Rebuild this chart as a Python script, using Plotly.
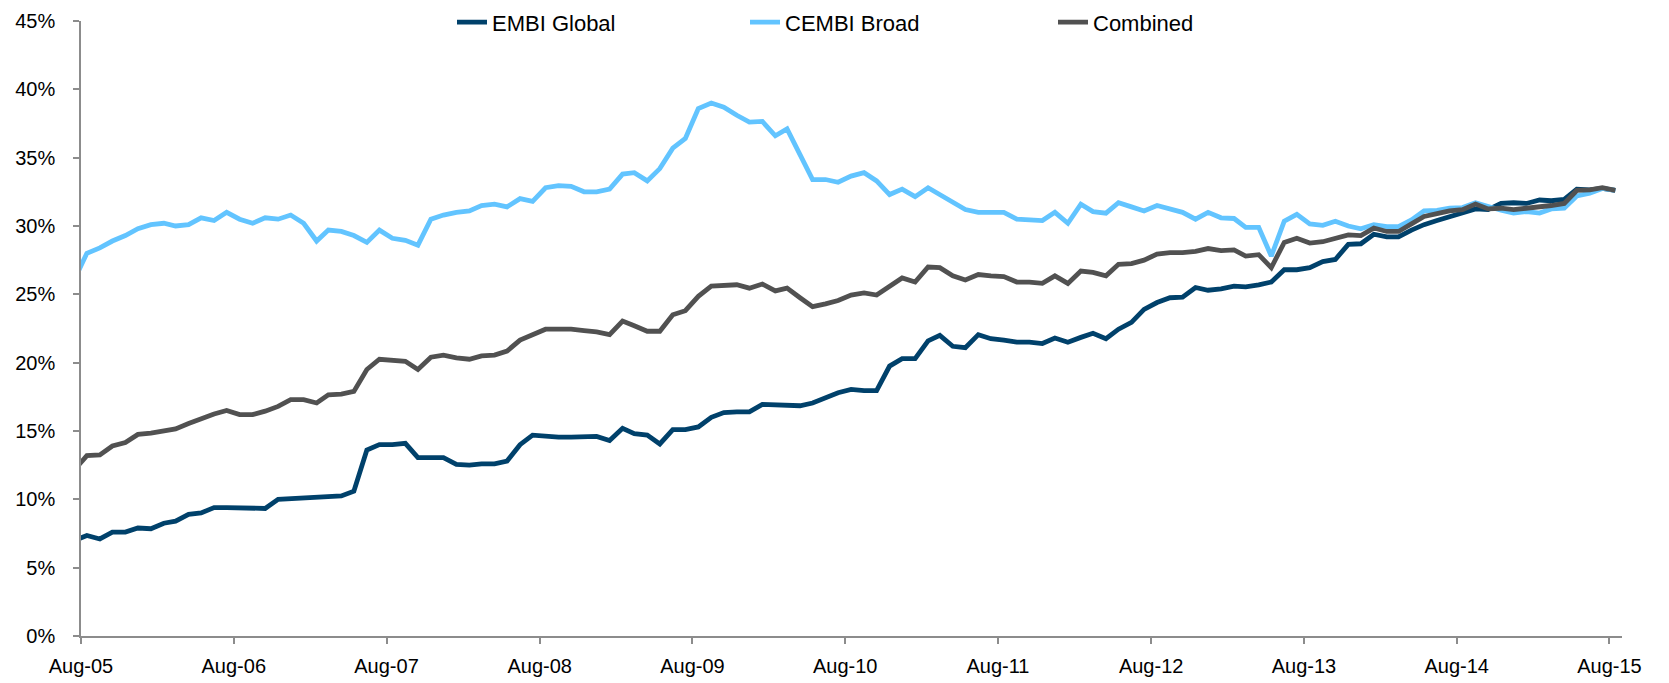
import pandas as pd
import plotly.graph_objects as go

# Monthly observations (mid-month); first value is Jul-05, which is clipped by the axis start
months = (pd.date_range("2005-07-01", periods=122, freq="MS") + pd.Timedelta(days=14)).strftime("%Y-%m-%d").tolist()

embi_global = [
    6.97,
    7.35, 7.1, 7.6, 7.6, 7.9, 7.85, 8.25, 8.4, 8.9, 9.0, 9.4, 9.4,
    9.35, 9.35, 9.33, 10.0, 10.05, 10.15, 10.15, 10.2, 10.25, 10.6, 13.6, 14.0,
    14.0, 14.1, 13.05, 13.05, 13.05, 12.55, 12.5, 12.6, 12.6, 12.8, 14.0, 14.7,
    14.6, 14.55, 14.55, 14.6, 14.6, 14.3, 15.2, 14.8, 14.7, 14.05, 15.1, 15.1,
    15.3, 16.0, 16.35, 16.4, 16.4, 16.95, 16.9, 16.85, 16.85, 17.05, 17.4, 17.8,
    18.05, 17.95, 17.95, 19.75, 20.3, 20.3, 21.6, 22.0, 21.2, 21.1, 22.05, 21.75,
    21.65, 21.5, 21.5, 21.4, 21.8, 21.5, 21.85, 22.15, 21.75, 22.45, 22.95, 23.9,
    24.4, 24.75, 24.8, 25.5, 25.3, 25.4, 25.6, 25.55, 25.7, 25.9, 26.8, 26.8,
    26.95, 27.4, 27.55, 28.65, 28.7, 29.4, 29.2, 29.2, 29.7, 30.1, 30.4, 30.7,
    31.0, 31.25, 31.2, 31.65, 31.7, 31.65, 31.9, 31.85, 31.95, 32.7, 32.65, 32.75,
    32.6,
]

cembi_broad = [
    26.0,
    28.0, 28.4, 28.9, 29.3, 29.8, 30.1, 30.2, 30.0, 30.1, 30.6, 30.4, 31.0,
    30.5, 30.2, 30.6, 30.5, 30.8, 30.2, 28.9, 29.7, 29.6, 29.3, 28.8, 29.7,
    29.1, 28.95, 28.6, 30.5, 30.8, 31.0, 31.1, 31.5, 31.6, 31.4, 32.0, 31.8,
    32.8, 32.95, 32.9, 32.5, 32.5, 32.7, 33.8, 33.9, 33.3, 34.2, 35.7, 36.4,
    38.6, 39.0, 38.7, 38.1, 37.6, 37.65, 36.6, 37.1, 35.25, 33.4, 33.4, 33.2,
    33.65, 33.9, 33.3, 32.3, 32.7, 32.15, 32.8, 32.3, 31.7, 31.2, 31.0, 31.0,
    31.0, 30.5, 30.45, 30.4, 31.0, 30.2, 31.6, 31.05, 30.94, 31.7, 31.4, 31.1,
    31.5, 31.25, 31.0, 30.5, 31.0, 30.6, 30.55, 29.9, 29.9, 27.8, 30.35, 30.85,
    30.15, 30.05, 30.35, 30.0, 29.8, 30.1, 29.95, 29.95, 30.45, 31.1, 31.15, 31.3,
    31.35, 31.7, 31.4, 31.15, 30.95, 31.05, 30.95, 31.25, 31.3, 32.2, 32.4, 32.75,
    32.6,
]

combined = [
    12.1,
    13.2, 13.25, 13.9, 14.15, 14.75, 14.85, 15.0, 15.15, 15.55, 15.9, 16.25, 16.5,
    16.2, 16.2, 16.45, 16.8, 17.3, 17.3, 17.05, 17.65, 17.7, 17.9, 19.5, 20.25,
    20.15, 20.1, 19.5, 20.4, 20.55, 20.35, 20.25, 20.5, 20.55, 20.85, 21.65, 22.05,
    22.45, 22.45, 22.45, 22.35, 22.25, 22.05, 23.05, 22.7, 22.3, 22.3, 23.5, 23.8,
    24.85, 25.6, 25.65, 25.7, 25.45, 25.75, 25.25, 25.45, 24.75, 24.1, 24.3, 24.55,
    24.95, 25.1, 24.95, 25.6, 26.2, 25.9, 27.0, 26.95, 26.35, 26.05, 26.45, 26.35,
    26.3, 25.9, 25.9, 25.8, 26.35, 25.8, 26.7, 26.6, 26.35, 27.2, 27.25, 27.5,
    27.95, 28.05, 28.05, 28.15, 28.35, 28.2, 28.25, 27.8, 27.9, 26.95, 28.8, 29.1,
    28.75, 28.85, 29.1, 29.35, 29.3, 29.85, 29.6, 29.6, 30.15, 30.7, 30.9, 31.1,
    31.2, 31.6, 31.25, 31.3, 31.2, 31.3, 31.35, 31.5, 31.65, 32.6, 32.65, 32.8,
    32.6,
]

series_names = ["EMBI Global", "CEMBI Broad", "Combined"]
series_colors = ["#00416B", "#62C4FF", "#515151"]
y_ticks = [0, 5, 10, 15, 20, 25, 30, 35, 40, 45]

FONT = "Liberation Sans, Arial, sans-serif"

fig = go.Figure()
legends = ["legend", "legend2", "legend3"]
for name, vals, col, lg in zip(series_names, [embi_global, cembi_broad, combined], series_colors, legends):
    fig.add_trace(go.Scatter(
        x=months, y=vals, name=name, mode="lines",
        line=dict(color=col, width=4.8),
        legend=lg,
    ))

leg_common = dict(
    orientation="h", yanchor="middle", xanchor="left",
    font=dict(family=FONT, size=22, color="#000000"),
    bgcolor="rgba(0,0,0,0)", borderwidth=0,
)
# page body adds an 8px offset; plot area targeted at absolute x 81..1622, y 21..636
plot_left, plot_w = 81, 1541
def px_to_paper(px):
    return (px - plot_left) / plot_w

fig.update_layout(
    width=1661, height=675,
    margin=dict(l=73, r=47, t=13, b=47, autoexpand=False),
    paper_bgcolor="white", plot_bgcolor="white",
    font=dict(family=FONT, size=20, color="#000000"),
    legend=dict(x=px_to_paper(452), y=0.998, **leg_common),
    legend2=dict(x=px_to_paper(745), y=0.998, **leg_common),
    legend3=dict(x=px_to_paper(1053), y=0.998, **leg_common),
    showlegend=True,
)

fig.update_xaxes(
    type="date",
    range=["2005-08-01", "2015-08-31"],
    tick0="2005-08-01", dtick="M12", tickformat="%b-%y",
    showgrid=False, zeroline=False,
    showline=True, linecolor="#8C8C8C", linewidth=1.5,
    ticks="outside", ticklen=6, tickcolor="#8C8C8C", tickwidth=1.5,
    ticklabelstandoff=5,
    tickfont=dict(family=FONT, size=20, color="#000000"),
)
fig.update_yaxes(
    range=[0, 45], tickvals=y_ticks, ticktext=[f"{v}%" for v in y_ticks],
    showgrid=False, zeroline=False,
    showline=True, linecolor="#8C8C8C", linewidth=1.5,
    ticks="outside", ticklen=6, tickcolor="#8C8C8C", tickwidth=1.5,
    ticklabelstandoff=14,
    tickfont=dict(family=FONT, size=20, color="#000000"),
)

fig.write_html("out.html")
